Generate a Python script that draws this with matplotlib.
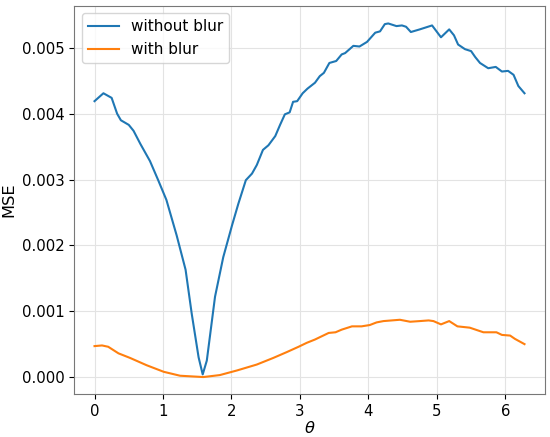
import matplotlib
matplotlib.use("Agg")
from matplotlib import pyplot as plt

# without blur
theta_a = [0.00, 0.13, 0.25, 0.33, 0.385, 0.50, 0.57, 0.67, 0.81, 0.93,
           1.05, 1.20, 1.33, 1.42, 1.52, 1.58, 1.64, 1.76, 1.88, 2.01,
           2.10, 2.21, 2.30, 2.37, 2.46, 2.54, 2.64, 2.71, 2.78, 2.85,
           2.90, 2.96, 3.04, 3.11, 3.22, 3.29, 3.35, 3.43, 3.53, 3.61,
           3.66, 3.78, 3.87, 3.98, 4.10, 4.17, 4.24, 4.29, 4.41, 4.49,
           4.55, 4.62, 4.75, 4.93, 5.06, 5.18, 5.25, 5.31, 5.41, 5.50,
           5.56, 5.63, 5.75, 5.86, 5.95, 6.04, 6.12, 6.19, 6.28]
mse_a = [0.00419, 0.00431, 0.00424, 0.00400, 0.00390, 0.00383, 0.00374, 0.00354, 0.00328, 0.00299,
         0.00269, 0.00215, 0.00163, 0.00096, 0.00030, 0.00004, 0.00025, 0.00122, 0.00182, 0.00231,
         0.00263, 0.00299, 0.00309, 0.00322, 0.00345, 0.00352, 0.00366, 0.00383, 0.00399, 0.00402,
         0.00418, 0.00419, 0.00431, 0.00438, 0.00447, 0.00457, 0.00462, 0.00477, 0.00480, 0.00490,
         0.00492, 0.00503, 0.00502, 0.00509, 0.00523, 0.00525, 0.00536, 0.00537, 0.00533, 0.00534,
         0.00532, 0.00524, 0.00528, 0.00534, 0.00516, 0.00528, 0.00519, 0.00505, 0.00498, 0.00495,
         0.00486, 0.00477, 0.00469, 0.00471, 0.00464, 0.00465, 0.00459, 0.00442, 0.00431]

# with blur
theta_b = [0.00, 0.11, 0.20, 0.35, 0.52, 0.76, 1.01, 1.25, 1.59, 1.83,
           2.08, 2.37, 2.61, 2.81, 2.98, 3.10, 3.22, 3.32, 3.42, 3.52,
           3.61, 3.76, 3.90, 4.02, 4.12, 4.22, 4.46, 4.61, 4.75, 4.88,
           4.95, 5.06, 5.18, 5.30, 5.48, 5.68, 5.87, 5.95, 6.07, 6.14, 6.28]
mse_b = [0.00047, 0.00048, 0.00046, 0.00036, 0.00029, 0.00018, 0.00008, 0.00002, 0.00000, 0.00003,
         0.00010, 0.00019, 0.00029, 0.00038, 0.00046, 0.00052, 0.00057, 0.00062, 0.00067, 0.00068,
         0.00072, 0.00077, 0.00077, 0.00079, 0.00083, 0.00085, 0.00087, 0.00084, 0.00085, 0.00086,
         0.00085, 0.00080, 0.00085, 0.00077, 0.00075, 0.00068, 0.00068, 0.00064, 0.00063, 0.00058, 0.00050]

FS = 10.7

fig, ax = plt.subplots(figsize=(5.5, 4.37), dpi=100)
fig.subplots_adjust(left=0.135, right=0.991, bottom=0.098, top=0.987)

ax.plot(theta_a, mse_a, color="#1f77b4", label="without blur")
ax.plot(theta_b, mse_b, color="#ff7f0e", label="with blur")

ax.set_xlim(-0.296, 6.58)
ax.set_ylim(-0.00026, 0.00564)
ax.set_xticks(range(7))
ax.set_yticks([0.0, 0.001, 0.002, 0.003, 0.004, 0.005])
ax.set_yticklabels(["0.000", "0.001", "0.002", "0.003", "0.004", "0.005"])
ax.tick_params(labelsize=FS)
ax.set_xlabel(r"$\theta$", fontsize=FS + 1, labelpad=1)
ax.set_ylabel("MSE", fontsize=FS + 1, labelpad=4)
ax.grid(True, color="#e3e3e3", linewidth=0.8)
for s in ax.spines.values():
    s.set_color("#777777")
ax.legend(loc="upper left", fontsize=FS + 0.3, borderaxespad=0.5)

fig.savefig("out.png", dpi=100)
